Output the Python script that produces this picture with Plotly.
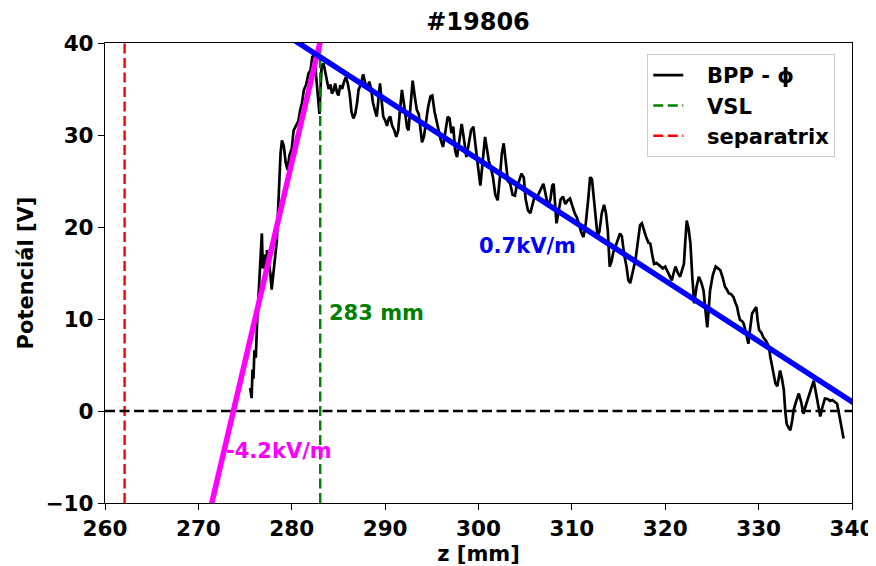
import plotly.graph_objects as go

# ---- data ----
z_mm = [275.55, 275.7, 275.8, 275.9, 276.0, 276.15, 276.3, 276.45, 276.6, 276.8, 276.9, 277.05, 277.2, 277.35,
        277.55, 277.7, 277.85, 278.0, 278.2, 278.4, 278.6, 278.8, 278.95, 279.15, 279.35, 279.55, 279.75, 280.0,
        280.2, 280.45, 280.7, 280.9, 281.1, 281.3, 281.55, 281.8, 282.0, 282.2, 282.45, 282.6, 282.75, 282.9,
        282.97, 283.05, 283.2, 283.4,
        283.6, 283.8, 283.95, 284.15, 284.3, 284.5, 284.65, 284.85, 285.0, 285.2, 285.4, 285.6, 285.8, 286.0,
        286.2, 286.4, 286.6, 286.8, 287.0, 287.15, 287.4, 287.65, 287.9, 288.1, 288.3, 288.5, 288.7, 288.9,
        289.1, 289.25, 289.45, 289.6, 289.8, 290.0, 290.2, 290.4, 290.55, 290.75, 290.95, 291.2, 291.4, 291.6,
        291.8, 292.0, 292.15, 292.35, 292.5, 292.7, 292.95, 293.2, 293.4, 293.6, 293.8, 293.95, 294.15, 294.4,
        294.6, 294.85, 295.05, 295.3, 295.5, 295.7, 295.95, 296.2, 296.45, 296.7, 296.9, 297.1, 297.3, 297.5,
        297.7, 297.95, 298.2, 298.45, 298.7, 298.95, 299.2, 299.45, 299.7, 299.95, 300.2, 300.45, 300.7, 300.9,
        301.1, 301.3, 301.55, 301.8, 302.05, 302.3, 302.5, 302.7, 302.95, 303.15, 303.4, 303.65, 303.9, 304.1,
        304.35, 304.6, 304.85, 305.05, 305.3, 305.55, 305.8, 306.05, 306.25, 306.5, 306.75, 306.95, 307.2,
        307.45, 307.7, 307.9, 308.05, 308.2, 308.35, 308.55, 308.8, 309.05, 309.3, 309.55, 309.8, 310.05,
        310.3, 310.55, 310.8, 311.05, 311.25, 311.5, 311.75, 311.95, 312.15, 312.35, 312.55, 312.75, 312.95,
        313.2, 313.45, 313.65, 313.85, 314.05, 314.25, 314.45, 314.65, 314.9, 315.15, 315.35, 315.6, 315.85,
        316.05, 316.25, 316.45, 316.65, 316.85, 317.05, 317.3, 317.5, 317.75, 317.95, 318.2, 318.4, 318.6,
        318.8, 319.05, 319.3, 319.5, 319.75, 320.0, 320.2, 320.45, 320.7, 320.9, 321.1, 321.35, 321.6, 321.8,
        322.0, 322.15, 322.3, 322.5, 322.7, 322.9, 323.1, 323.35, 323.6, 323.85, 324.1, 324.3, 324.5, 324.65,
        324.8, 325.1, 325.4, 325.65, 325.9, 326.15, 326.4, 326.6, 326.8, 327.05, 327.3, 327.5, 327.7, 327.85,
        328.0, 328.2, 328.4, 328.65, 328.9, 329.1, 329.3, 329.55, 329.75, 329.9, 330.05, 330.3, 330.5, 330.8,
        331.1, 331.25, 331.45, 331.65, 331.8, 332.0, 332.15, 332.3, 332.5, 332.7, 332.85, 333.0, 333.2, 333.4,
        333.6, 333.75, 334.0, 334.3, 334.55, 334.8, 335.05, 335.35, 335.6, 335.9, 336.1, 336.25, 336.45, 336.6,
        336.8, 337.1, 337.4, 337.65, 337.9, 338.2, 338.4, 338.7, 338.9, 339.1]
phi_V = [2.5, 1.4, 4.5, 3.5, 6.6, 5.8, 9.9, 12.5, 16.0, 19.3, 15.5, 17.0, 14.5, 17.5,
         16.0, 15.0, 13.2, 14.5, 16.5, 18.5, 23.3, 28.0, 29.4, 28.8, 27.0, 26.2, 27.8, 28.5,
         30.5, 31.0, 31.5, 32.7, 33.5, 34.9, 35.5, 36.7, 37.0, 38.5, 38.8, 36.5, 34.5, 33.0,
         32.3, 34.5, 37.4, 37.8,
         36.8, 36.0, 35.0, 35.5, 34.5, 34.9, 35.6, 34.6, 34.3, 35.4, 35.0, 35.8, 36.3, 35.6,
         34.5, 32.5, 31.8, 32.3, 33.5, 34.9, 35.5, 36.6, 35.5, 35.2, 35.8, 35.0, 33.5, 32.7,
         32.0, 33.5, 35.6, 34.0, 32.0, 31.6, 31.0, 31.8, 32.0, 31.0, 30.6, 29.8, 30.5, 32.8,
         34.9, 33.5, 32.0, 30.8, 30.5, 33.0, 35.9, 34.0, 32.7, 32.3, 30.5, 29.2, 29.8, 31.8,
         33.0, 34.2, 34.3, 32.5, 31.5, 30.5, 29.5, 28.7, 30.5, 32.0, 31.8, 30.2, 30.9, 28.3,
         27.6, 29.5, 31.2, 29.5, 27.6, 29.0, 30.5, 30.9, 28.5, 26.5, 24.5, 27.5, 29.8, 28.5,
         27.2, 26.5, 25.4, 23.5, 22.9, 25.5, 28.0, 29.1, 27.0, 25.0, 24.7, 23.5, 23.4, 24.5,
         25.0, 25.8, 25.4, 23.0, 21.8, 21.5, 22.5, 23.5, 23.2, 23.8, 24.2, 24.7, 23.5,
         22.2, 23.0, 24.5, 24.7, 22.0, 20.4, 21.5, 23.0, 23.3, 22.5, 22.9, 23.1, 22.3,
         21.5, 21.0, 20.0, 19.3, 18.9, 20.5, 23.0, 25.4, 25.2, 23.0, 20.4, 19.0, 19.5,
         21.5, 22.4, 21.5, 19.6, 15.7, 16.3, 17.3, 17.8, 18.5, 19.3, 19.0, 17.0, 15.7,
         14.2, 13.9, 15.0, 15.7, 16.7, 18.5, 20.2, 20.4, 19.5, 18.9, 18.3, 18.2, 17.0,
         16.0, 16.1, 15.9, 15.7, 15.5, 15.7, 15.3, 14.8, 14.2, 15.0, 15.7, 15.0, 14.6, 15.3,
         16.0, 18.5, 20.7, 19.8, 18.2, 14.5, 11.7, 13.5, 14.6, 14.0, 13.1, 11.0, 9.1, 11.0,
         13.1, 14.8, 15.7, 15.5, 15.3, 14.5, 13.5, 13.2, 12.8, 12.7, 12.4, 11.8, 11.3, 10.5,
         9.9, 9.8, 9.5, 8.5, 7.3, 9.0, 10.6, 11.0, 11.3, 9.8, 8.8, 8.5, 8.0, 7.6,
         7.0, 5.9, 4.8, 3.5, 3.0, 2.7, 3.4, 4.4, 3.5, 2.3, 0.0, -1.4, -1.8, -2.1,
         -1.0, 0.1, 1.0, 1.9, 1.0, -0.3, 0.6, 1.5, 2.3, 3.3, 2.2, 1.2, 0.0, -0.6,
         0.3, 1.35, 1.3, 1.1, 1.2, 1.0, 0.8, -0.8, -2.0, -3.0]

shot_title = "#19806"
vsl_z = 283.05          # VSL position [mm]
separatrix_z = 262.1    # separatrix position [mm]

# linear fits: phi = slope * (z - zero_crossing)
ion_fit_slope, ion_fit_zero = 4.32, 273.75
ion_fit_range = [270.0, 285.0]
e_fit_slope, e_fit_zero = -0.658, 341.52
e_fit_range = [278.0, 342.0]
ion_fit_label = "-4.2kV/m"
e_fit_label = "0.7kV/m"
vsl_label = "283 mm"

x_range = [260, 340]
y_range = [-10, 40]
x_ticks = [260, 270, 280, 290, 300, 310, 320, 330, 340]
y_ticks = [-10, 0, 10, 20, 30, 40]

FONT = "DejaVu Sans"
FS = 21
FS_TICK = 21.5
FS_TITLE = 24
GAP = "\u00a0\u00a0\u2009"

def fit_line(slope, zero, rng):
    xs = [rng[0], rng[1]]
    return xs, [slope * (x - zero) for x in xs]

fig = go.Figure()

fig.add_trace(go.Scatter(x=z_mm, y=phi_V, mode="lines", name=GAP + "BPP - ϕ",
                         line=dict(color="black", width=2.7)))
fig.add_trace(go.Scatter(x=[vsl_z, vsl_z], y=y_range, mode="lines", name=GAP + "VSL",
                         line=dict(color="green", width=2.4, dash="10px,4.5px")))
fig.add_trace(go.Scatter(x=[separatrix_z, separatrix_z], y=y_range, mode="lines", name=GAP + "separatrix",
                         line=dict(color="red", width=2.4, dash="10px,4.5px")))
fig.add_trace(go.Scatter(x=x_range, y=[0, 0], mode="lines", showlegend=False,
                         line=dict(color="black", width=2.4, dash="10px,4.5px")))
xi, yi = fit_line(ion_fit_slope, ion_fit_zero, ion_fit_range)
fig.add_trace(go.Scatter(x=xi, y=yi, mode="lines", showlegend=False,
                         line=dict(color="#ff00ff", width=5.5)))
xe, ye = fit_line(e_fit_slope, e_fit_zero, e_fit_range)
fig.add_trace(go.Scatter(x=xe, y=ye, mode="lines", showlegend=False,
                         line=dict(color="#0000ff", width=5.5)))

fig.add_annotation(x=283.8, y=10.7, text=vsl_label, showarrow=False, xanchor="left",
                   font=dict(family=FONT, size=FS, color="green", weight="bold"))
fig.add_annotation(x=305.2, y=17.9, text=e_fit_label, showarrow=False, xanchor="center",
                   font=dict(family=FONT, size=FS, color="#0000ff", weight="bold"))
fig.add_annotation(x=272.7, y=-4.4, text=ion_fit_label, showarrow=False, xanchor="left",
                   font=dict(family=FONT, size=FS, color="#ff00ff", weight="bold"))

axis_common = dict(showline=True, mirror=True, linecolor="black", linewidth=1.3,
                   ticks="outside", ticklen=6, tickwidth=1.3, tickcolor="black",
                   showgrid=False, zeroline=False,
                   tickfont=dict(family=FONT, size=FS_TICK, color="black", weight="bold"))

fig.update_xaxes(range=x_range, tickvals=x_ticks, **axis_common,
                 title=dict(text="z [mm]", standoff=7,
                            font=dict(family=FONT, size=FS, color="black", weight="bold")))
fig.update_yaxes(range=y_range, tickvals=y_ticks, **axis_common,
                 title=dict(text="Potenciál [V]", standoff=6,
                            font=dict(family=FONT, size=FS, color="black", weight="bold")))

# the page adds an 8px body margin, so the figure is 8px smaller and shifted
fig.update_layout(
    width=868, height=558,
    margin=dict(l=97, r=24, t=35, b=63, autoexpand=False),
    paper_bgcolor="white", plot_bgcolor="white",
    title=dict(text=shot_title, x=0.5415, xanchor="center", y=0.975, yanchor="middle",
               font=dict(family=FONT, size=FS_TITLE, color="black", weight="bold")),
    legend=dict(x=0.9776, y=0.976, xanchor="right", yanchor="top",
                bgcolor="white", bordercolor="#cccccc", borderwidth=1,
                font=dict(family=FONT, size=FS, color="black", weight="bold")),
    showlegend=True,
)

fig.write_html("out.html")
